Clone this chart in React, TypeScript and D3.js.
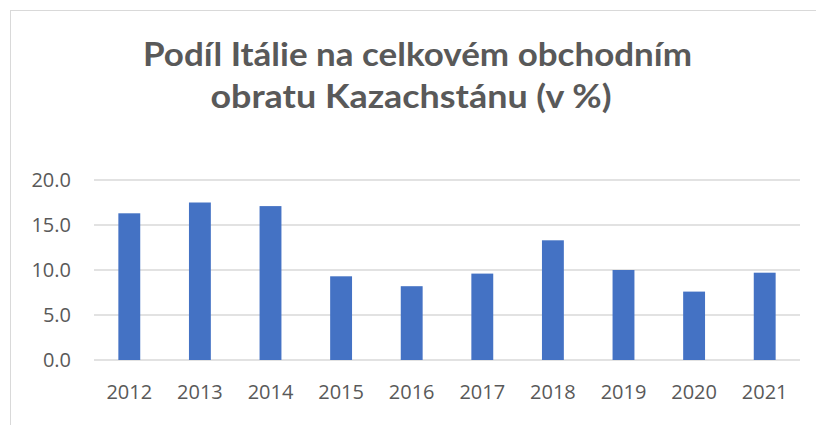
import React from "react";
import * as d3 from "d3";

const years = ["2012", "2013", "2014", "2015", "2016", "2017", "2018", "2019", "2020", "2021"];
const shares = [16.3, 17.5, 17.1, 9.3, 8.2, 9.6, 13.3, 10.0, 7.6, 9.7];
const yTicks = [0, 5, 10, 15, 20];
const titleLines = ["Podíl Itálie na celkovém obchodním", "obratu Kazachstánu (v %)"];

const W = 816;
const H = 425;
const plot = { left: 94, right: 800, top: 180, bottom: 360 };

export default function App() {
  const x = d3
    .scaleBand<string>()
    .domain(years)
    .range([plot.left, plot.right])
    .paddingInner(0.69)
    .paddingOuter(0.345);
  const y = d3.scaleLinear().domain([0, 20]).range([plot.bottom, plot.top]);
  const fmt = d3.format(".1f");

  return (
    <svg
      width={W}
      height={H}
      style={{ position: "absolute", left: 0, top: 0, background: "#fff" }}
    >
      <rect x={0} y={0} width={W} height={H} fill="#fff" />
      <rect x={10.5} y={10.5} width={W + 20} height={H + 20} fill="#fff" stroke="#d9d9d9" strokeWidth={1} />
      <g fontFamily="Lato, 'Open Sans', sans-serif" fontWeight={700} fontSize={32} fill="#595959" textAnchor="middle">
        <text x={417.5} y={66} textLength={549} lengthAdjust="spacingAndGlyphs">
          {titleLines[0]}
        </text>
        <text x={411} y={108} textLength={401} lengthAdjust="spacingAndGlyphs">
          {titleLines[1]}
        </text>
      </g>
      <g>
        {yTicks.map((t) => (
          <line
            key={t}
            x1={plot.left}
            x2={plot.right}
            y1={y(t)}
            y2={y(t)}
            stroke="#d9d9d9"
            strokeWidth={1.5}
          />
        ))}
      </g>
      <g>
        {years.map((yr, i) => (
          <rect
            key={yr}
            x={x(yr)}
            y={y(shares[i])}
            width={x.bandwidth()}
            height={y(0) - y(shares[i])}
            fill="#4472C4"
          />
        ))}
      </g>
      <g fontFamily="'Open Sans', sans-serif" fontSize={20} fill="#595959">
        {yTicks.map((t) => (
          <text key={t} x={71} y={y(t)} dy="0.36em" textAnchor="end">
            {fmt(t)}
          </text>
        ))}
        {years.map((yr) => (
          <text key={yr} x={(x(yr) as number) + x.bandwidth() / 2} y={399} textAnchor="middle">
            {yr}
          </text>
        ))}
      </g>
    </svg>
  );
}
